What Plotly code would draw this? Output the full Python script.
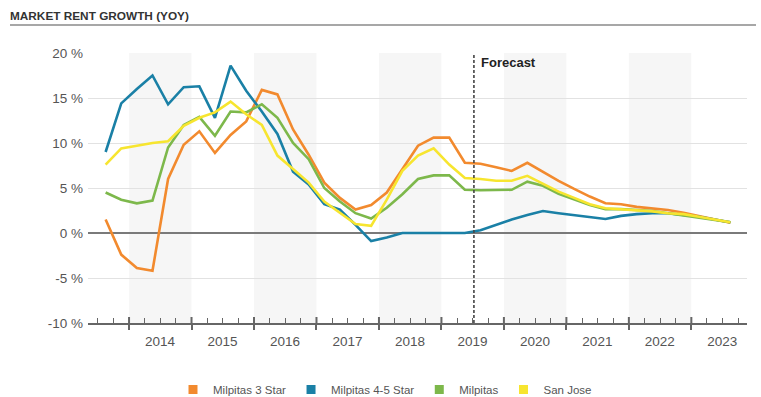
import pandas as pd
import plotly.graph_objects as go

# Quarterly periods, plotted at the centre of each quarter (fractional years)
quarters = pd.period_range("2013Q3", "2023Q3", freq="Q")
x_pos = [p.year + (p.quarter - 0.5) / 4 for p in quarters]

milpitas_3_star = [1.5, -2.4, -3.9, -4.2, 6.0, 9.8, 11.3, 8.9, 10.9, 12.4,
                   15.9, 15.4, 11.5, 8.7, 5.6, 3.9, 2.6, 3.1, 4.5, 7.1,
                   9.7, 10.6, 10.6, 7.8, 7.7, 7.3, 6.9, 7.8, 6.8, 5.8,
                   4.9, 4.05, 3.3, 3.2, 2.9, 2.75, 2.55, 2.25, 1.9, 1.5, 1.15]
milpitas_4_5_star = [9.0, 14.4, 16.0, 17.5, 14.3, 16.2, 16.3, 12.8, 18.6, 15.8,
                     13.5, 11.0, 6.8, 5.4, 3.2, 2.6, 0.9, -0.9, -0.5, 0.0,
                     0.0, 0.0, 0.0, 0.0, 0.3, 0.9, 1.5, 2.0, 2.45, 2.2,
                     2.0, 1.8, 1.55, 1.9, 2.1, 2.2, 2.2, 2.0, 1.8, 1.5, 1.2]
milpitas = [4.5, 3.7, 3.3, 3.6, 9.5, 12.0, 12.9, 10.8, 13.5, 13.4,
            14.3, 12.8, 10.0, 8.2, 5.0, 3.5, 2.2, 1.6, 2.8, 4.3,
            6.0, 6.4, 6.4, 4.8, 4.75, 4.75, 4.8, 5.7, 5.25, 4.35,
            3.7, 3.1, 2.65, 2.65, 2.55, 2.45, 2.2, 1.95, 1.75, 1.45, 1.2]
san_jose = [7.6, 9.4, 9.7, 10.0, 10.2, 11.9, 12.8, 13.4, 14.6, 13.2,
            12.0, 8.6, 7.1, 5.6, 3.5, 2.2, 1.0, 0.8, 3.7, 6.9,
            8.6, 9.4, 7.6, 6.1, 6.0, 5.8, 5.8, 6.35, 5.5, 4.6,
            3.9, 3.2, 2.75, 2.65, 2.5, 2.4, 2.2, 2.1, 1.8, 1.5, 1.2]

series_names = ["Milpitas 3 Star", "Milpitas 4-5 Star", "Milpitas", "San Jose"]
series_values = [milpitas_3_star, milpitas_4_5_star, milpitas, san_jose]
series_colors = ["#F28A2E", "#1A80A6", "#7DB84B", "#F7E52F"]

years = list(range(2014, 2024))
shaded_years = [2014, 2016, 2018, 2020, 2022]
y_ticks = [-10, -5, 0, 5, 10, 15, 20]
y_tick_text = ["-10 %", "-5 %", "0 %", "5 %", "10 %", "15 %", "20 %"]
forecast_start = 2019.52
x_range = [2013.343, 2023.891]

FONT = "Liberation Sans, Arial, sans-serif"

fig = go.Figure()

for name, vals, col in zip(series_names, series_values, series_colors):
    fig.add_trace(go.Scatter(
        x=x_pos, y=vals, mode="lines", name=name, showlegend=False,
        line=dict(color=col, width=2.6), hoverinfo="x+y+name"))

# square swatches for the legend
for name, col in zip(series_names, series_colors):
    fig.add_trace(go.Scatter(
        x=[None], y=[None], mode="markers", name=name,
        marker=dict(symbol="square", size=9, color=col)))

shapes = []
# alternating year bands
for yr in shaded_years:
    shapes.append(dict(type="rect", xref="x", yref="paper", x0=yr, x1=yr + 1,
                       y0=0, y1=1, fillcolor="rgba(0,0,0,0.035)",
                       line=dict(width=0), layer="below"))
# inside half of the year-boundary ticks
for yr in years:
    shapes.append(dict(type="line", xref="x", yref="paper", x0=yr, x1=yr,
                       y0=0, y1=6 / 270, line=dict(color="#666", width=2)))
# forecast divider
shapes.append(dict(type="line", xref="x", yref="paper", x0=forecast_start,
                   x1=forecast_start, y0=0, y1=1,
                   line=dict(color="#444", width=1.6, dash="3px,2px")))
# rule under the heading
shapes.append(dict(type="line", xref="paper", yref="paper",
                   x0=-78 / 659, x1=668 / 659, y0=298 / 270, y1=298 / 270,
                   line=dict(color="#8a8a8a", width=1.5)))

minor_vals = [yr + q / 4 for yr in range(2013, 2024) for q in (1, 2, 3)
              if x_range[0] < yr + q / 4 < x_range[1]]

fig.update_layout(
    width=761, height=397,
    margin=dict(l=88, r=14, t=53, b=74, autoexpand=False),
    paper_bgcolor="white", plot_bgcolor="white",
    font=dict(family=FONT, color="#555"),
    title=dict(text="<b>MARKET RENT GROWTH (YOY)</b>", xref="container",
               yref="container", x=10 / 761, y=1 - 16 / 397,
               xanchor="left", yanchor="middle",
               font=dict(size=11.8, color="#333", family=FONT)),
    shapes=shapes,
    annotations=[dict(text="<b>Forecast</b>", xref="x", yref="y",
                      x=forecast_start, y=19.0, xshift=5, xanchor="left",
                      yanchor="middle", showarrow=False,
                      font=dict(size=13, color="#222", family=FONT))],
    legend=dict(orientation="h", x=(173 - 88) / 659, xanchor="left",
                y=-52 / 270, yanchor="top",
                font=dict(size=11.5, color="#555", family=FONT),
                bgcolor="rgba(0,0,0,0)"),
    xaxis=dict(range=x_range, tickvals=years, ticktext=[str(y) for y in years],
               ticklabelshift=31, ticks="outside", ticklen=5, tickwidth=2,
               tickcolor="#666", showline=True, linecolor="#666", linewidth=2,
               showgrid=False, zeroline=False,
               tickfont=dict(size=13.5, color="#555"),
               minor=dict(tickvals=minor_vals, ticks="inside", ticklen=5,
                          tickwidth=1.3, tickcolor="#666", showgrid=False)),
    yaxis=dict(range=[-10, 20], tickvals=y_ticks, ticktext=y_tick_text,
               showgrid=True, gridcolor="#e2e2e2", gridwidth=1,
               zeroline=True, zerolinecolor="#7a7a7a", zerolinewidth=2,
               showline=False, ticks="", ticklabelstandoff=4,
               tickfont=dict(size=13.5, color="#555")),
)

fig.write_html("out.html")
